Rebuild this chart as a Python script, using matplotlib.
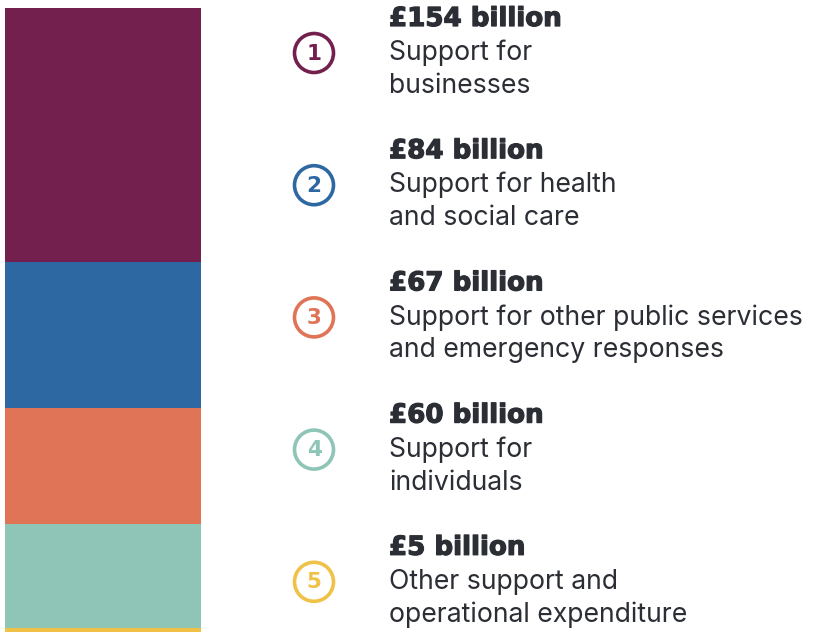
import matplotlib
matplotlib.use("Agg")
import matplotlib.pyplot as plt
from matplotlib.patches import Circle
import matplotlib.patheffects as pe
import numpy as np

# Data
categories = ["Support for\nbusinesses",
              "Support for health\nand social care",
              "Support for other public services\nand emergency responses",
              "Support for\nindividuals",
              "Other support and\noperational expenditure"]
values = [154, 84, 67, 60, 5]
amount_labels = ["£154 billion", "£84 billion", "£67 billion", "£60 billion", "£5 billion"]
colors = ["#73204f", "#2e68a2", "#e07456", "#8ec5b7", "#efc247"]

W, H = 813, 632
DPI = 100
fig = plt.figure(figsize=(W / DPI, H / DPI), dpi=DPI)
fig.patch.set_facecolor("white")

# Stacked bar axes (cropped view, as in the reference)
ax = fig.add_axes([5 / W, 0, 196 / W, (H - 8) / H])
bottoms = np.concatenate([[0], np.cumsum(values)[:-1]])
ax.bar([0.5] * len(values), values, bottom=bottoms, width=1.0, color=colors,
       edgecolor="none", linewidth=0)
ax.set_xlim(0, 1)
ax.set_ylim(367.3, 7.6)
ax.axis("off")

# Overlay axes in pixel coordinates for the legend
ov = fig.add_axes([0, 0, 1, 1])
ov.set_xlim(0, W)
ov.set_ylim(H, 0)
ov.axis("off")

text_color = "#2b2e35"
x_text = 390
x_circ = 314
y0 = 19
step = 132.2
for i, (lab, amt, col) in enumerate(zip(categories, amount_labels, colors)):
    yt = y0 + i * step
    ov.text(x_text - 1, yt, amt, fontsize=18.8, fontweight="bold", family="DejaVu Sans",
            color=text_color, va="center", ha="left",
            path_effects=[pe.withStroke(linewidth=0.9, foreground=text_color)])
    lines = lab.split("\n")
    for j, ln in enumerate(lines):
        ov.text(x_text - 1, yt + 34 + j * 33, ln, fontsize=19.2, family="Inter",
                color=text_color, va="center", ha="left")
    cy = yt + 34
    ov.add_patch(Circle((x_circ, cy), 19.5, fill=False, edgecolor=col, linewidth=2.6))
    ov.text(x_circ, cy + 0.5, str(i + 1), fontsize=15.5, color=col, ha="center",
            va="center", family="DejaVu Sans", fontweight="bold")

fig.savefig("out.png", dpi=DPI, facecolor="white")
